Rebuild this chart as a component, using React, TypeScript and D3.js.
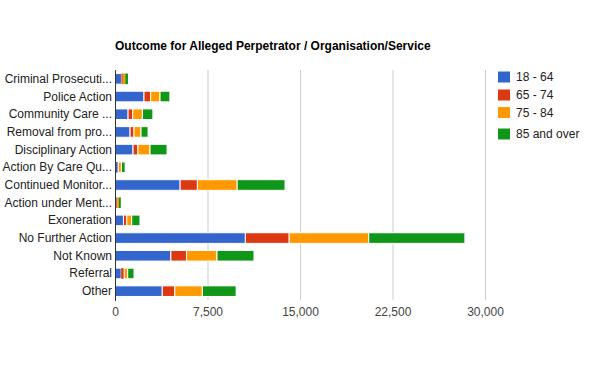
import React from "react";
import * as d3 from "d3";

const categories = [
  "Criminal Prosecuti...",
  "Police Action",
  "Community Care ...",
  "Removal from pro...",
  "Disciplinary Action",
  "Action By Care Qu...",
  "Continued Monitor...",
  "Action under Ment...",
  "Exoneration",
  "No Further Action",
  "Not Known",
  "Referral",
  "Other",
];

const keys = ["18 - 64", "65 - 74", "75 - 84", "85 and over"];
const colors = ["#3366cc", "#dc3912", "#ff9900", "#109618"];

const age18to64 = [480, 2310, 1020, 1180, 1420, 170, 5240, 80, 645, 10530, 4490, 460, 3790];
const age65to74 = [110, 540, 380, 320, 400, 60, 1400, 60, 270, 3550, 1265, 240, 1020];
const age75to84 = [200, 760, 780, 570, 980, 250, 3225, 140, 400, 6450, 2475, 290, 2230];
const age85over = [220, 800, 850, 570, 1380, 300, 3880, 150, 670, 7800, 3000, 510, 2740];

const xTicks = [0, 7500, 15000, 22500, 30000];

const width = 600,
  height = 371;
const margin = { top: 70, left: 115.5, right: 114.5, bottom: 71 };

export default function App() {
  const data = categories.map((c, i) => ({
    cat: c,
    "18 - 64": age18to64[i],
    "65 - 74": age65to74[i],
    "75 - 84": age75to84[i],
    "85 and over": age85over[i],
  }));
  const series = d3.stack<any>().keys(keys)(data);

  const x = d3.scaleLinear().domain([0, 30000]).range([margin.left, width - margin.right]);
  const y = d3
    .scaleBand()
    .domain(categories)
    .range([margin.top, height - margin.bottom])
    .paddingInner(0.4)
    .paddingOuter(0.2);
  const fmt = d3.format(",");
  const legendY = [77, 95, 112.5, 134];

  return (
    <svg
      width={width}
      height={height}
      style={{ position: "absolute", left: 0, top: 0, background: "#fff" }}
      fontFamily="Arial, 'Liberation Sans', sans-serif"
    >
      <text x={115} y={50} fontSize={12} fontWeight="bold" fill="#000">
        Outcome for Alleged Perpetrator / Organisation/Service
      </text>
      {xTicks.map((t) => (
        <g key={t}>
          {t > 0 && (
            <line x1={x(t)} x2={x(t)} y1={margin.top} y2={height - margin.bottom} stroke="#cccccc" />
          )}
          <text x={x(t)} y={316} fontSize={12} fill="#444" textAnchor="middle">
            {fmt(t)}
          </text>
        </g>
      ))}
      {series.map((s, si) =>
        s.map((d: any, i: number) => {
          const w = Math.max(0, x(d[1]) - x(d[0]));
          return (
            <rect
              key={si + "-" + i}
              x={x(d[0])}
              y={y(categories[i])!}
              width={w}
              height={y.bandwidth()}
              fill={colors[si]}
              stroke="#fff"
              strokeWidth={w > 3 ? 1 : 0}
            />
          );
        })
      )}
      <line x1={margin.left} x2={margin.left} y1={margin.top} y2={height - margin.bottom + 1} stroke="#333" />
      {categories.map((c) => (
        <text
          key={c}
          x={112}
          y={y(c)! + y.bandwidth() / 2 + 4}
          fontSize={12}
          fill="#222"
          textAnchor="end"
        >
          {c}
        </text>
      ))}
      {keys.map((k, i) => (
        <g key={k}>
          <rect x={498} y={legendY[i] - 5.5} width={12} height={11} fill={colors[i]} />
          <text x={516} y={legendY[i] + 4} fontSize={12} fill="#222">
            {k}
          </text>
        </g>
      ))}
    </svg>
  );
}
